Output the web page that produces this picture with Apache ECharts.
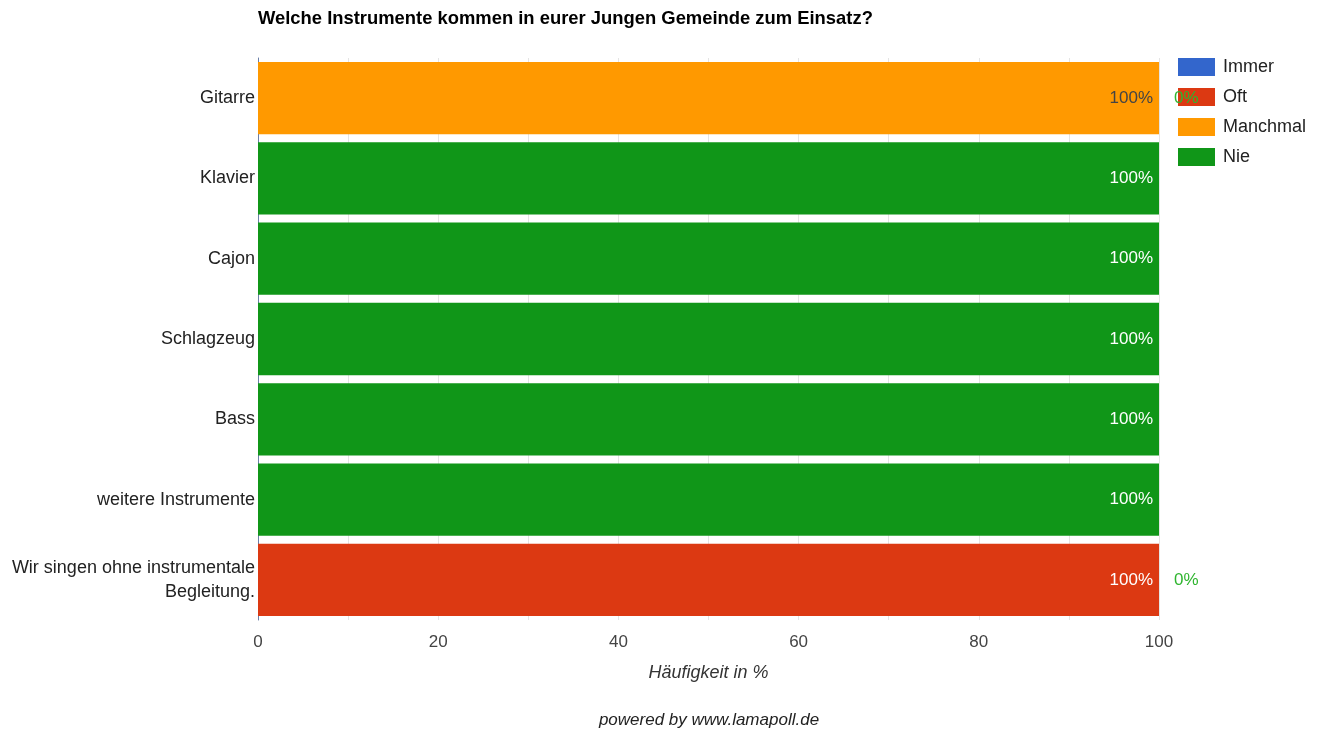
<!DOCTYPE html>
<html>
<head>
<meta charset="utf-8">
<script src="https://cdn.jsdelivr.net/npm/echarts@6/dist/echarts.min.js"></script>
<style>
  html, body { margin: 0; padding: 0; background: #fff; }
  #chart { width: 1326px; height: 736px; }
</style>
</head>
<body>
<div id="chart"></div>
<script>
// categories (top to bottom)
const categories = [
  'Gitarre',
  'Klavier',
  'Cajon',
  'Schlagzeug',
  'Bass',
  'weitere Instrumente',
  'Wir singen ohne instrumentale\nBegleitung.'
]
const seriesNames = ['Immer', 'Oft', 'Manchmal', 'Nie']
const immer    = [0, 0, 0, 0, 0, 0, 0]
const oft      = [0, 0, 0, 0, 0, 0, 100]
const manchmal = [100, 0, 0, 0, 0, 0, 0]
const nie      = [0, 100, 100, 100, 100, 100, 0]
const colors = ['#3366cc', '#dc3912', '#ff9900', '#109618']
const labelColors = ['#ffffff', '#ffffff', '#444444', '#ffffff']

const FONT = '"Liberation Sans", Arial, sans-serif'

const chart = echarts.init(document.getElementById('chart'))

function buildSeries(name, values, idx) {
  const data = values.map(v => {
    if (v > 0) {
      return {
        value: v,
        label: { show: true, position: 'insideRight', distance: 6, color: labelColors[idx] }
      }
    }
    // the last series also prints its zero values, just right of the bar
    if (idx === 3) {
      return {
        value: v,
        label: { show: true, position: 'right', distance: 15, color: '#2fb52f' }
      }
    }
    return { value: v, label: { show: false } }
  })
  return {
    name: name,
    type: 'bar',
    stack: 'total',
    barCategoryGap: '10%',
    z: idx === 3 ? 10 : 2, // zero label sits on top of the legend
    itemStyle: { color: colors[idx] },
    label: {
      fontFamily: FONT,
      fontSize: 17,
      formatter: p => p.value + '%'
    },
    data: data
  }
}

const option = {
  animation: false,
  textStyle: { fontFamily: FONT },
  title: {
    text: 'Welche Instrumente kommen in eurer Jungen Gemeinde zum Einsatz?',
    left: 253,
    top: 5,
    textStyle: { fontFamily: FONT, fontSize: 18.4, fontWeight: 'bold', color: '#000' }
  },
  legend: {
    orient: 'vertical',
    left: 1173,
    top: 53,
    itemWidth: 37,
    itemHeight: 18,
    itemGap: 12,
    icon: 'rect',
    data: seriesNames,
    textStyle: { fontFamily: FONT, fontSize: 18, color: '#222', padding: [0, 0, 0, 3] }
  },
  grid: {
    left: 258,
    right: 167,
    top: 58,
    bottom: 116,
    containLabel: false
  },
  xAxis: {
    type: 'value',
    min: 0,
    max: 100,
    interval: 10,
    name: 'Häufigkeit in %',
    nameLocation: 'middle',
    nameGap: 44,
    nameTextStyle: { fontFamily: FONT, fontSize: 18, fontStyle: 'italic', color: '#333' },
    axisLine: { show: false },
    axisTick: { show: false },
    axisLabel: {
      fontFamily: FONT,
      fontSize: 17,
      color: '#444',
      margin: 14,
      formatter: v => (v % 20 === 0 ? String(v) : '')
    },
    splitLine: { show: true, lineStyle: { color: '#e4e4e4', width: 1 } }
  },
  yAxis: {
    type: 'category',
    inverse: true,
    data: categories,
    axisLine: { show: true, lineStyle: { color: '#6a7fa8', width: 1 } },
    axisTick: { show: false },
    axisLabel: {
      fontFamily: FONT,
      fontSize: 18,
      color: '#222',
      margin: 3,
      lineHeight: 24,
      align: 'right'
    }
  },
  graphic: [
    {
      type: 'text',
      x: 709,
      y: 712,
      style: {
        text: 'powered by www.lamapoll.de',
        font: 'italic 17px "Liberation Sans", Arial, sans-serif',
        fill: '#222',
        align: 'center'
      }
    }
  ],
  series: [
    buildSeries(seriesNames[0], immer, 0),
    buildSeries(seriesNames[1], oft, 1),
    buildSeries(seriesNames[2], manchmal, 2),
    buildSeries(seriesNames[3], nie, 3)
  ]
}

chart.setOption(option)
</script>
</body>
</html>
